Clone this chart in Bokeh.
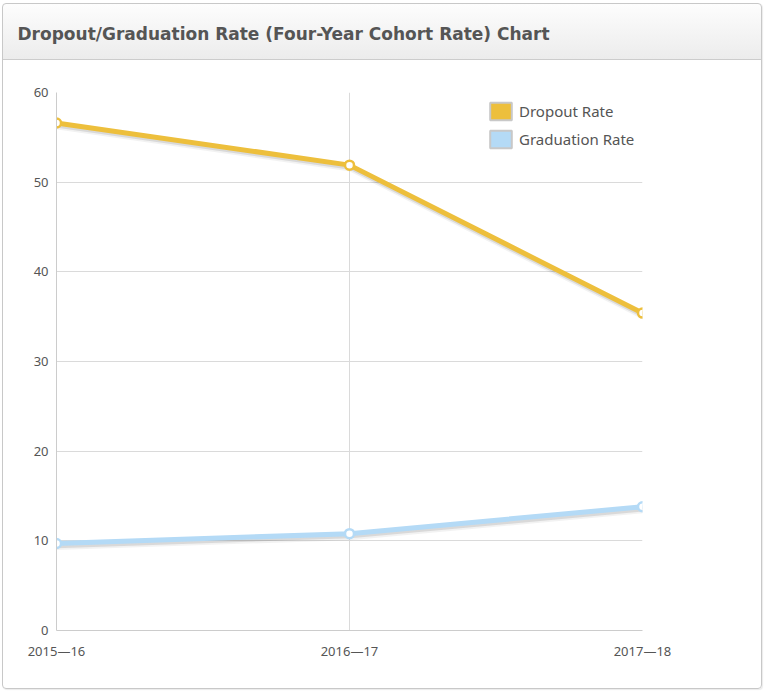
from bokeh.plotting import figure
from bokeh.models import (Range1d, FixedTicker, Legend, LegendItem, Title,
                          LinearAxis, ColumnDataSource)
from bokeh.embed import file_html
from bokeh.resources import INLINE

# ---- data -------------------------------------------------------------
school_years = ["2015\u201416", "2016\u201417", "2017\u201418"]
dropout_rate = [56.6, 51.9, 35.4]
graduation_rate = [9.7, 10.8, 13.8]
y_ticks = [0, 10, 20, 30, 40, 50, 60]

title_text = "Dropout/Graduation Rate (Four-Year Cohort Rate) Chart"

DROPOUT_COLOR = "#EDBF3C"
GRAD_COLOR = "#B4DAF6"
TEXT_COLOR = "#555555"
FONT = "Noto Sans"
TITLE_FONT = "DejaVu Sans"

# panel with a light grey header band (CSS gradient behind the canvas)
panel_styles = {
    "border": "1px solid #c8c8c8",
    "border-radius": "4px",
    "box-shadow": "1px 1px 1px rgba(0,0,0,0.08)",
    "background": ("linear-gradient(to bottom, #fdfdfd 0px, #ececec 55px, "
                   "#cccccc 55px, #cccccc 56px, #ffffff 56px, #ffffff 100%)"),
}

p = figure(width=760, height=686, x_range=Range1d(0, 2),
           y_range=Range1d(0, 60), toolbar_location=None,
           min_border_left=53, min_border_right=121,
           min_border_top=88, min_border_bottom=60,
           margin=(3, 0, 0, 2), styles=panel_styles,
           output_backend="svg")
p.outline_line_color = None
p.background_fill_color = "#ffffff"
p.border_fill_color = None

x_axis = p.below[0]
y_axis = p.left[0]

xs = list(range(len(school_years)))

# a blank axis (hidden ticks and labels) keeps a gap between frame and title
gap = LinearAxis(ticker=FixedTicker(ticks=xs), major_tick_out=47,
                 major_tick_in=0, major_tick_line_color=None,
                 minor_tick_line_color=None, axis_line_color=None,
                 major_label_text_color=None, major_label_text_font_size="1px",
                 major_label_standoff=0)
p.add_layout(gap, "above")

# title sits in the header band
p.add_layout(Title(text=title_text, align="left", offset=-39, standoff=0,
                   vertical_align="top",
                   text_font=TITLE_FONT, text_font_size="17px",
                   text_font_style="bold", text_color=TEXT_COLOR), "above")

# shadow ranges shift the shadow copies a couple of pixels down/right
px_y = 60 / 538.0
px_x = 2 / 586.0
p.extra_y_ranges = {"sh1": Range1d(2.2 * px_y, 60 + 2.2 * px_y),
                    "sh2": Range1d(4.0 * px_y, 60 + 4.0 * px_y)}
p.extra_x_ranges = {"shx": Range1d(-1 * px_x, 2 - 1 * px_x)}

src = ColumnDataSource(dict(x=xs, dropout=dropout_rate, grad=graduation_rate))

# grid and axes
x_axis.ticker = FixedTicker(ticks=xs)
x_axis.major_label_overrides = {i: s for i, s in enumerate(school_years)}
y_axis.ticker = FixedTicker(ticks=y_ticks)
p.xgrid.ticker = FixedTicker(ticks=xs)
p.ygrid.ticker = FixedTicker(ticks=y_ticks)
for g in (p.xgrid, p.ygrid):
    g.grid_line_color = "#dadada"
    g.grid_line_width = 1
for ax in (x_axis, y_axis):
    ax.axis_line_color = "#cccccc"
    ax.major_tick_line_color = None
    ax.minor_tick_line_color = None
    ax.major_label_text_color = TEXT_COLOR
    ax.major_label_text_font = FONT
    ax.major_label_text_font_size = "13px"
y_axis.major_label_standoff = 2
x_axis.major_label_standoff = 5

# soft drop shadows under the series
for col in ("dropout", "grad"):
    p.line("x", col, source=src, x_range_name="shx", y_range_name="sh2",
           line_width=5, line_color="#000000", line_alpha=0.05,
           line_join="round", line_cap="round")
    p.line("x", col, source=src, x_range_name="shx", y_range_name="sh1",
           line_width=5, line_color="#000000", line_alpha=0.10,
           line_join="round", line_cap="round")

for col, color in (("dropout", DROPOUT_COLOR), ("grad", GRAD_COLOR)):
    p.line("x", col, source=src, line_width=5, line_color=color,
           line_join="round", line_cap="round")
    p.scatter("x", col, source=src, size=9, fill_color="#ffffff",
              line_color=color, line_width=2.5)

# legend swatches (renderers carry no visible geometry)
nan = float("nan")
sw_d = p.quad(left=[nan], right=[nan], top=[nan], bottom=[nan],
              fill_color=DROPOUT_COLOR, line_color="#c8c8c8", line_width=2)
sw_g = p.quad(left=[nan], right=[nan], top=[nan], bottom=[nan],
              fill_color=GRAD_COLOR, line_color="#c8c8c8", line_width=2)
legend = Legend(items=[LegendItem(label="Dropout Rate", renderers=[sw_d]),
                       LegendItem(label="Graduation Rate", renderers=[sw_g])],
                location=(431, 480), padding=0, margin=0, spacing=6,
                glyph_width=27, glyph_height=22, label_standoff=5,
                label_text_font=FONT, label_text_font_size="15px",
                label_text_color=TEXT_COLOR, border_line_alpha=0,
                background_fill_alpha=0)
p.add_layout(legend)

open("out.html", "w").write(file_html(p, INLINE))
